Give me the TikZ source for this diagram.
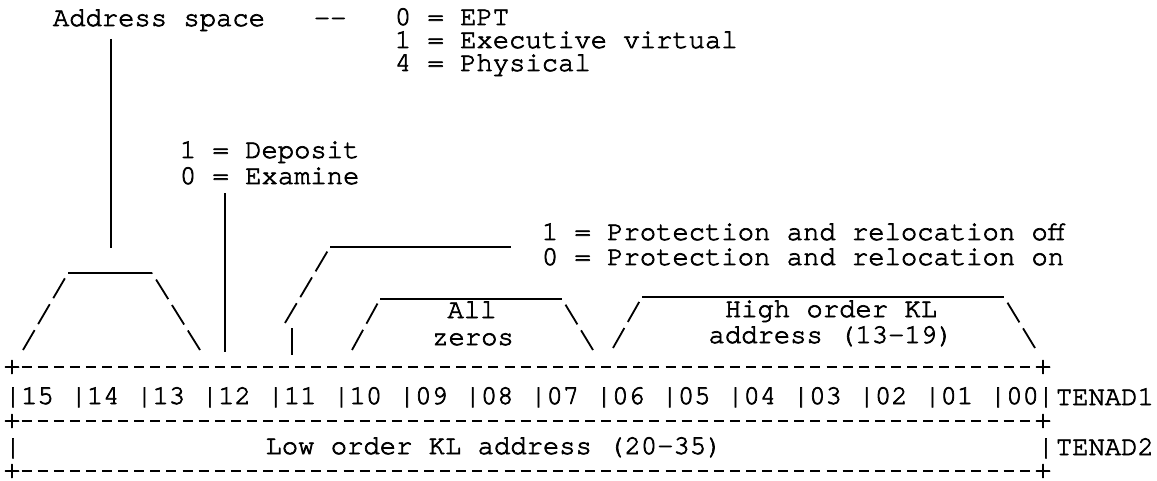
\documentclass[tikz,border=0pt]{standalone}
\usepackage{fontspec}
\setmonofont[FakeBold=2.5]{texgyrecursor-regular.otf}
\begin{document}
\begin{tikzpicture}[x=1pt, y=-1pt, line width=1.8pt,
        tt/.style={font=\ttfamily\fontsize{27.2}{30}\selectfont, inner sep=0pt},
        txt/.style={tt, anchor=base west},
        mid/.style={tt, anchor=base},
        plus/.style={tt, inner sep=0.5pt},
        rule/.style={dash pattern=on 10pt off 6.1pt},
        slash/.style={dash pattern=on 23pt off 7pt}]
        \useasboundingbox (0, 0) rectangle (1157, 481);

        \node[txt] (addr) at (52, 26) {Address space};
        \node[txt] (sep) at (313, 26) {-\kern0pt-};
        \node[txt] (ept) at (394, 25) {0 = EPT};
        \node[txt] (exec) at (394, 48) {1 = Executive virtual};
        \node[txt] (phys) at (394, 71) {4 = Physical};

        \node[txt] (dep) at (179, 158) {1 = Deposit};
        \node[txt] (exa) at (179, 184) {0 = Examine};

        \node[txt] (prot1) at (541, 240) {1 = Protection and relocation off};
        \node[txt] (prot0) at (541, 265) {0 = Protection and relocation on};

        \node[mid] (all) at (472, 318) {All};
        \node[mid] (zeros) at (473, 345) {zeros};
        \node[mid] (high) at (831, 317) {High order KL};
        \node[mid] (hiaddr) at (831, 343) {address (13-19)};

        \foreach \b [count=\i from 0] in {15,14,13,12,11,10,09,08,07,06,05,04,03,02,01,00}
            \node[txt] (bit\b) at ({4 + 65.67*\i}, 404) {|\b};
        \node[txt] (bitend) at (1037, 404) {|};
        \node[txt] (tenad1) at (1055, 405) {TENAD1};

        \node[txt] (lbar) at (4, 455) {|};
        \node[txt] (rbar) at (1037, 455) {|};
        \node[mid] (low) at (494, 454) {Low order KL address (20-35)};
        \node[txt] (tenad2) at (1055, 455) {TENAD2};

        % box rules
        \node[plus] (tl) at (12, 367) {+};
        \node[plus] (tr) at (1043, 367) {+};
        \node[plus] (ml) at (12, 421) {+};
        \node[plus] (mr) at (1043, 421) {+};
        \node[plus] (bl) at (12, 471) {+};
        \node[plus] (br) at (1043, 471) {+};
        \draw[rule] (tl) -- (tr);
        \draw[rule] (ml) -- (mr);
        \draw[rule] (bl) -- (br);

        % address space bracket
        \coordinate (a0) at (111, 248);
        \coordinate (a1) at (23, 350);
        \coordinate (a2) at (68, 273);
        \coordinate (a3) at (152, 273);
        \coordinate (a4) at (200, 350);
        \draw[shorten <=7pt] (addr.south -| a0) -- (a0);
        \draw[slash] (a1) -- (a2);
        \draw (a2) -- (a3);
        \draw[slash] (a4) -- (a3);

        % deposit
        \coordinate (d0) at (225, 352);
        \draw[shorten <=8pt] (exa.south -| d0) -- (d0);

        % protection
        \coordinate (p0) at (292, 328);
        \coordinate (p1) at (292, 355);
        \coordinate (p2) at (285, 323);
        \coordinate (p3) at (330, 247);
        \coordinate (p4) at (511, 247);
        \draw (p0) -- (p1);
        \draw[slash] (p2) -- (p3);
        \draw (p3) -- (p4);

        % all zeros
        \coordinate (z1) at (352, 350);
        \coordinate (z2) at (380, 299);
        \coordinate (z3) at (562, 299);
        \coordinate (z4) at (593, 350);
        \draw[slash] (z1) -- (z2);
        \draw (z2) -- (z3);
        \draw[slash] (z4) -- (z3);

        % high order
        \coordinate (h1) at (613, 348);
        \coordinate (h2) at (642, 297);
        \coordinate (h3) at (1004, 297);
        \coordinate (h4) at (1035, 348);
        \draw[slash] (h1) -- (h2);
        \draw (h2) -- (h3);
        \draw[slash] (h4) -- (h3);
\end{tikzpicture}
\end{document}
